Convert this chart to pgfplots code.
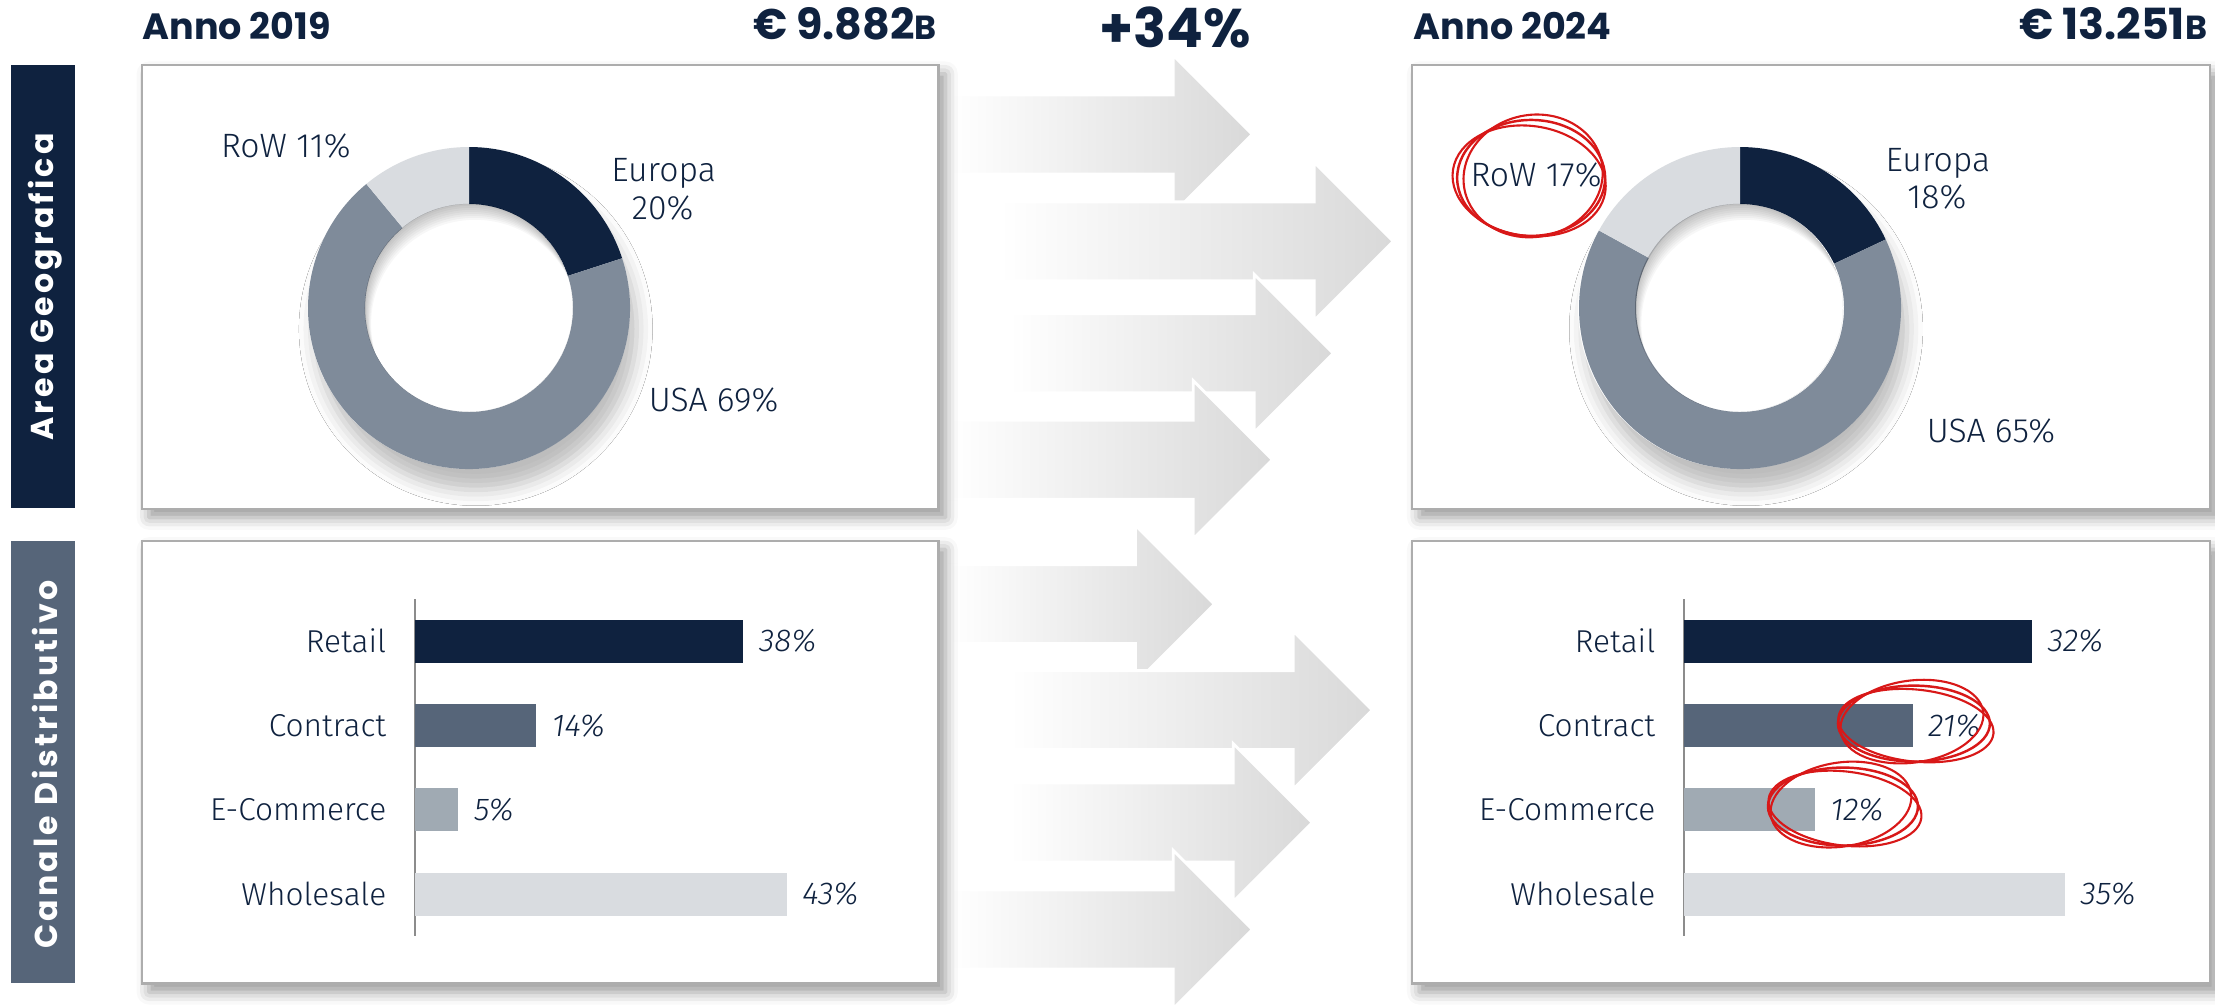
\documentclass[border=0pt]{standalone}
\usepackage{pgfplots}
\pgfplotsset{compat=1.18}
\usepackage{fontspec}
\setmainfont{Fira Sans Light}
\newfontfamily\pop{Poppins}
\usetikzlibrary{shadows.blur}

\definecolor{navy}{HTML}{0F223F}
\definecolor{slate}{HTML}{566579}
\definecolor{usagray}{HTML}{7F8B9A}
\definecolor{ecgray}{HTML}{A0AAB3}
\definecolor{rowgray}{HTML}{D9DCE0}
\definecolor{scribble}{HTML}{D81818}

% one donut slice, clockwise from #1 to #2 (degrees)
\newcommand{\slice}[3]{%
  \fill[#3] (axis cs:0,0) ++(#1:1.61cm) arc[start angle=#1, end angle=#2, radius=1.61cm]
    -- ++(#2:-0.57cm) arc[start angle=#2, end angle=#1, radius=1.04cm] -- cycle;}

% grey arrow: left x, head base x, centre y
\newcommand{\bigarrow}[3]{%
  \shade[left color=white, right color=black!15, draw=white, line width=0.8pt]
    (#1,#3-39.5) -- (#2,#3-39.5) -- (#2,#3-79) -- (#2+79,#3) -- (#2,#3+79)
    -- (#2,#3+39.5) -- (#1,#3+39.5) -- cycle;}

% soft shadows around a donut centred at (#1,#2)
\newcommand{\donutshadow}[2]{%
  \fill[white, blur shadow={shadow xshift=2pt, shadow yshift=-6pt, shadow blur radius=4.5pt, shadow opacity=26}]
    (#1,#2) circle[radius=1.61cm];}
\newcommand{\holeshadow}[2]{%
  \begin{scope}
    \clip (#1,#2) circle[radius=1.04cm];
    \foreach \k in {1,...,8}
      \fill[black, opacity=0.03, even odd rule] (#1,#2) circle[radius=1.04cm] (#1+0.8*\k,#2+2*\k) circle[radius=1.04cm];
  \end{scope}}

\pgfplotsset{
  chbar/.style={
    anchor=north west, y=0.8433cm, y dir=reverse,
    xmin=0, xmax=45, ymin=-0.5, ymax=3.5,
    axis x line=none, axis y line*=left,
    y axis line style={draw=black!45, line width=0.5pt},
    ytick={0,1,2,3}, yticklabels={Retail,Contract,E-Commerce,Wholesale},
    major tick length=0pt,
    yticklabel style={font=\fontsize{9}{10}\selectfont, text=navy, inner sep=0pt, xshift=-8pt},
    xbar, bar width=0.43cm, bar shift=0pt,
    point meta=x,
    /pgf/number format/assume math mode=true,
    nodes near coords={\pgfmathprintnumber{\pgfplotspointmeta}\%},
    every node near coord/.append style={font=\fontsize{9}{10}\selectfont\itshape, text=navy, inner sep=0pt, xshift=4.3pt},
    clip=false,
  },
  chdonut/.style={
    anchor=center, x=0.01cm, y=0.01cm,
    xmin=-170, xmax=170, ymin=-170, ymax=170,
    hide axis, clip=false,
  },
}
\tikzset{
  px/.style={x=0.01cm, y=-0.01cm},
  panel/.style={draw=black!32, line width=0.6pt, fill=white,
    blur shadow={shadow xshift=2pt, shadow yshift=-2.5pt, shadow blur radius=3.5pt, shadow opacity=40}},
  lbl/.style={font=\fontsize{9.6}{10}\selectfont, text=navy, inner sep=0pt, anchor=base},
  band/.style={rotate=90, text=white, inner sep=0, font=\pop\bfseries\fontsize{9}{10}\selectfont\addfontfeatures{LetterSpace=10}},
  head/.style={inner sep=0, text=navy, font=\pop\bfseries},
}

\begin{document}
\begin{tikzpicture}
\useasboundingbox (0,0) rectangle (22.15cm,-10.04cm);

\begin{scope}[px]
% arrows between the two years
\bigarrow{950}{1174}{134.5}
\bigarrow{1000}{1315}{241.5}
\bigarrow{1010}{1255}{353.5}
\bigarrow{950}{1194}{460}
\bigarrow{950}{1136}{604.5}
\bigarrow{1010}{1294}{710.5}
\bigarrow{1010}{1234}{823}
\bigarrow{950}{1174}{930}

% headers
\node[head, anchor=base west] at (142,40) {\fontsize{10.4}{12}\selectfont Anno 2019};
\node[head, anchor=base east] at (938,40) {\fontsize{12.2}{13}\selectfont € 9.882{\fontsize{9.5}{10}\selectfont B}};
\node[head, anchor=base] at (1176,48) {\fontsize{15.5}{16}\selectfont +34\%};
\node[head, anchor=base west] at (1414,40) {\fontsize{10.4}{12}\selectfont Anno 2024};
\node[head, anchor=base east] at (2209,40) {\fontsize{12.2}{13}\selectfont € 13.251{\fontsize{9.5}{10}\selectfont B}};

% side bands
\fill[navy] (11,65) rectangle (75,508);
\fill[slate] (11,541) rectangle (75,984);
\node[band] at (45,287) {Area Geografica};
\node[band] at (45,765) {Canale Distributivo};

% panels
\path[panel] (142,65) rectangle (939,509);
\path[panel] (142,541) rectangle (939,984);
\path[panel] (1413,65) rectangle (2211,509);
\path[panel] (1413,541) rectangle (2211,984);

\donutshadow{469}{308}
\donutshadow{1740}{308}
\end{scope}

% donut 2019: Europa 20, USA 69, RoW 11
\pgfmathsetmacro{\aA}{90-3.6*20}
\pgfmathsetmacro{\aB}{\aA-3.6*69}
\begin{axis}[chdonut, at={(4.69cm,-3.08cm)}]
  \addplot[draw=none] coordinates {(0,0)};
  \slice{90}{\aA}{navy}
  \slice{\aA}{\aB}{usagray}
  \slice{\aB}{-270}{rowgray}
\end{axis}

% donut 2024: Europa 18, USA 65, RoW 17
\pgfmathsetmacro{\bA}{90-3.6*18}
\pgfmathsetmacro{\bB}{\bA-3.6*65}
\begin{axis}[chdonut, at={(17.40cm,-3.08cm)}]
  \addplot[draw=none] coordinates {(0,0)};
  \slice{90}{\bA}{navy}
  \slice{\bA}{\bB}{usagray}
  \slice{\bB}{-270}{rowgray}
\end{axis}

% channel bars 2019
\begin{axis}[chbar, at={(4.15cm,-5.99cm)}, x=0.0864cm]
  \addplot[xbar, fill=navy, draw=none] coordinates {(38,0)};
  \addplot[xbar, fill=slate, draw=none] coordinates {(14,1)};
  \addplot[xbar, fill=ecgray, draw=none] coordinates {(5,2)};
  \addplot[xbar, fill=rowgray, draw=none] coordinates {(43,3)};
\end{axis}

% channel bars 2024
\begin{axis}[chbar, at={(16.84cm,-5.99cm)}, x=0.1088cm]
  \addplot[xbar, fill=navy, draw=none] coordinates {(32,0)};
  \addplot[xbar, fill=slate, draw=none] coordinates {(21,1)};
  \addplot[xbar, fill=ecgray, draw=none] coordinates {(12,2)};
  \addplot[xbar, fill=rowgray, draw=none] coordinates {(35,3)};
\end{axis}

\begin{scope}[px]
\holeshadow{469}{308}
\holeshadow{1740}{308}

% donut labels
\node[lbl] at (286,158) {RoW 11\%};
\node[lbl] at (664,182) {Europa};
\node[lbl] at (663,220) {20\%};
\node[lbl] at (714,412) {USA 69\%};
\node[lbl] at (1537,187) {RoW 17\%};
\node[lbl] at (1939,172) {Europa};
\node[lbl] at (1938,209) {18\%};
\node[lbl] at (1992,443) {USA 65\%};

% red hand-drawn circles
\draw[scribble, line width=0.7pt] (1532,178) ellipse[x radius=74, y radius=58];
\draw[scribble, line width=0.6pt, rotate around={12:(1534,176)}] (1534,176) ellipse[x radius=70, y radius=61];
\draw[scribble, line width=0.6pt, rotate around={-8:(1530,181)}] (1530,181) ellipse[x radius=77, y radius=55];

\draw[scribble, line width=0.7pt] (1915,724) ellipse[x radius=76, y radius=38];
\draw[scribble, line width=0.6pt, rotate around={8:(1913,722)}] (1913,722) ellipse[x radius=72, y radius=41];
\draw[scribble, line width=0.6pt, rotate around={-6:(1917,726)}] (1917,726) ellipse[x radius=78, y radius=36];

\draw[scribble, line width=0.7pt] (1844,807) ellipse[x radius=75, y radius=39];
\draw[scribble, line width=0.6pt, rotate around={9:(1842,805)}] (1842,805) ellipse[x radius=71, y radius=42];
\draw[scribble, line width=0.6pt, rotate around={-7:(1846,809)}] (1846,809) ellipse[x radius=77, y radius=37];
\end{scope}
\end{tikzpicture}
\end{document}
